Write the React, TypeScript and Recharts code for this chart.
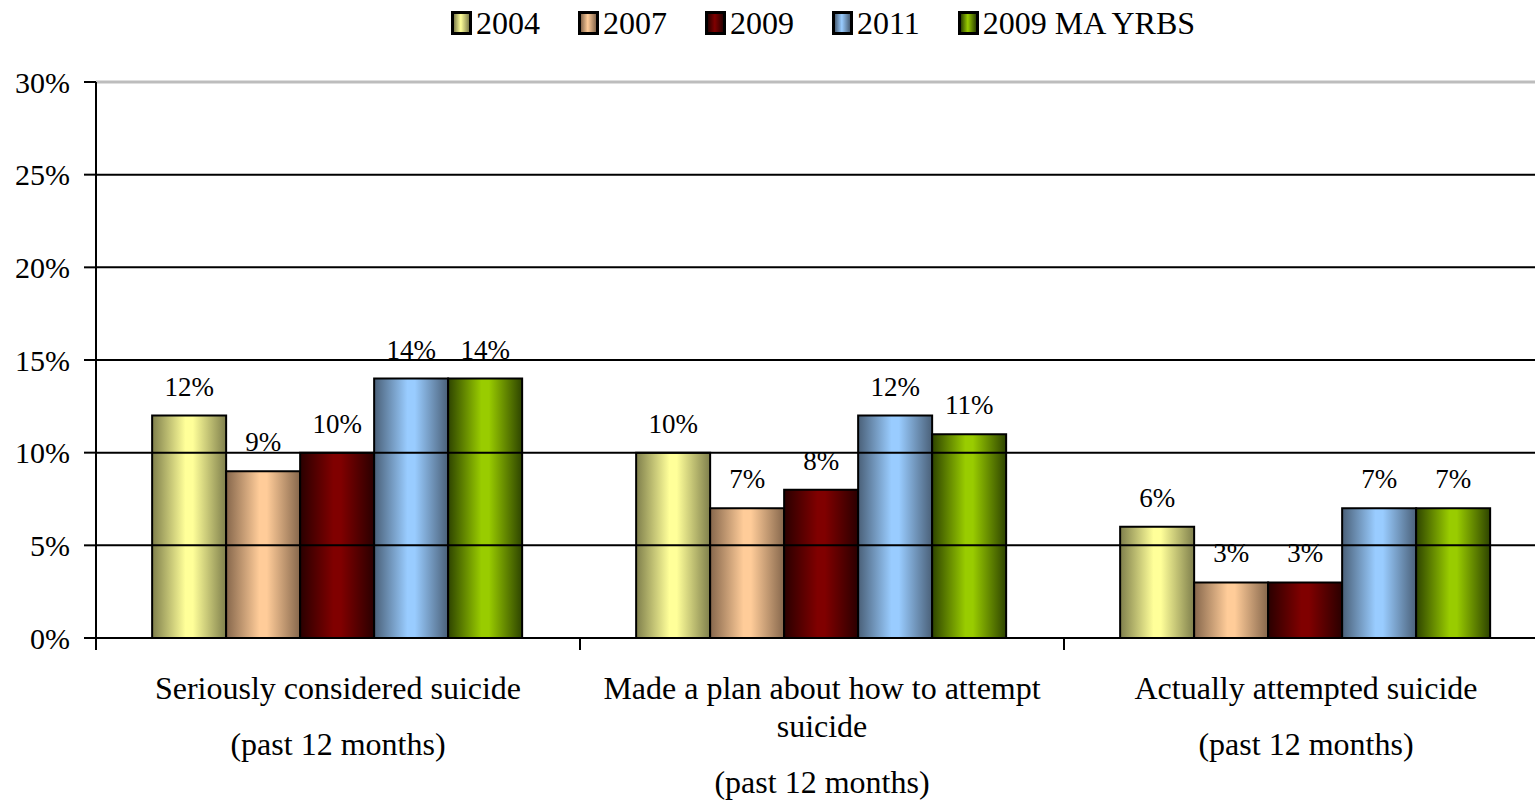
import { BarChart, Bar, XAxis, YAxis, ReferenceLine, LabelList } from "recharts";

const categories = ["considered", "plan", "attempted"];
const categoryLabels: string[][][] = [
  [["Seriously considered suicide"], ["(past 12 months)"]],
  [["Made a plan about how to attempt", "suicide"], ["(past 12 months)"]],
  [["Actually attempted suicide"], ["(past 12 months)"]],
];

const s2004 = [12, 10, 6];
const s2007 = [9, 7, 3];
const s2009 = [10, 8, 3];
const s2011 = [14, 12, 7];
const sYrbs = [14, 11, 7];

const yTicks = [0, 5, 10, 15, 20, 25, 30];

const series = [
  { key: "y2004", name: "2004", values: s2004, edge: "#7f7f4c", mid: "#ffff99" },
  { key: "y2007", name: "2007", values: s2007, edge: "#86674c", mid: "#ffcc99" },
  { key: "y2009", name: "2009", values: s2009, edge: "#2a0000", mid: "#800000" },
  { key: "y2011", name: "2011", values: s2011, edge: "#4a6078", mid: "#99ccff" },
  { key: "yrbs", name: "2009 MA YRBS", values: sYrbs, edge: "#2e4400", mid: "#99cc00" },
];

const data = categories.map((c, i) => {
  const row: Record<string, number | string> = { name: c };
  series.forEach((s) => (row[s.key] = s.values[i]));
  return row;
});

const W = 1535;
const H = 801;
const LEFT = 96;
const RIGHT = -13;
const BAND = (W - LEFT - RIGHT) / categories.length;
const FONT = "'Liberation Serif', 'Times New Roman', serif";

function CategoryTick(props: any) {
  const { x, y, index } = props;
  const paras = categoryLabels[index] || [];
  const lines: { text: string; dy: number }[] = [];
  let cy = 42;
  paras.forEach((p) => {
    p.forEach((t) => {
      lines.push({ text: t, dy: cy });
      cy += 38;
    });
    cy += 18;
  });
  const left = x - BAND / 2;
  return (
    <g>
      <line x1={left} x2={left} y1={y - 8} y2={y + 4} stroke="#000" strokeWidth={2} />
      {lines.map((l, i) => (
        <text
          key={i}
          x={x}
          y={y + l.dy}
          textAnchor="middle"
          dominantBaseline="central"
          fontSize={32}
          fontFamily={FONT}
          fill="#000"
        >
          {l.text}
        </text>
      ))}
    </g>
  );
}

function Legend() {
  return (
    <div
      style={{
        position: "absolute",
        top: 5,
        left: 451,
        display: "flex",
        gap: 38,
        fontFamily: FONT,
        fontSize: 32,
        lineHeight: "36px",
      }}
    >
      {series.map((s) => (
        <div key={s.key} style={{ display: "flex", alignItems: "center" }}>
          <span
            style={{
              display: "inline-block",
              boxSizing: "border-box",
              width: 21,
              height: 24,
              border: "3px solid #000",
              marginRight: 4,
              background: `linear-gradient(to right, ${s.edge}, ${s.mid} 45%, ${s.edge})`,
            }}
          />
          <span>{s.name}</span>
        </div>
      ))}
    </div>
  );
}

export default function App() {
  return (
    <div
      style={{
        position: "absolute",
        left: 0,
        top: 0,
        width: W,
        height: H,
        background: "#fff",
        overflow: "hidden",
      }}
    >
      <Legend />
      <BarChart
        width={W}
        height={H}
        data={data}
        margin={{ top: 82, right: RIGHT, left: 0, bottom: 0 }}
        barCategoryGap="11.6%"
        barGap={0}
        style={{ overflow: "hidden" }}
      >
        <defs>
          {series.map((s) => (
            <linearGradient key={s.key} id={`g-${s.key}`} x1="0" y1="0" x2="1" y2="0">
              <stop offset="0%" stopColor={s.edge} />
              <stop offset="45%" stopColor={s.mid} />
              <stop offset="55%" stopColor={s.mid} />
              <stop offset="100%" stopColor={s.edge} />
            </linearGradient>
          ))}
        </defs>
        {yTicks.slice(1, -1).map((t) => (
          <ReferenceLine key={t} y={t} stroke="#000" strokeWidth={2} />
        ))}
        <ReferenceLine y={30} stroke="#bdbdbd" strokeWidth={3} />
        <XAxis
          dataKey="name"
          height={163}
          axisLine={{ stroke: "#000", strokeWidth: 2 }}
          tickLine={false}
          tick={<CategoryTick />}
          interval={0}
        />
        <YAxis
          width={LEFT}
          domain={[0, 30]}
          ticks={yTicks}
          tickFormatter={(v) => `${v}%`}
          axisLine={{ stroke: "#000", strokeWidth: 2 }}
          tickLine={{ stroke: "#000", strokeWidth: 2 }}
          tickSize={12}
          tickMargin={14}
          tick={{ fill: "#000", fontSize: 30, fontFamily: FONT }}
        />
        {series.map((s) => (
          <Bar
            key={s.key}
            dataKey={s.key}
            name={s.name}
            fill={`url(#g-${s.key})`}
            stroke="#000"
            strokeWidth={2}
            isAnimationActive={false}
          >
            <LabelList
              dataKey={s.key}
              position="top"
              offset={20}
              formatter={(v: any) => `${v}%`}
              style={{ fill: "#000", fontSize: 27, fontFamily: FONT }}
            />
          </Bar>
        ))}
      </BarChart>
    </div>
  );
}
